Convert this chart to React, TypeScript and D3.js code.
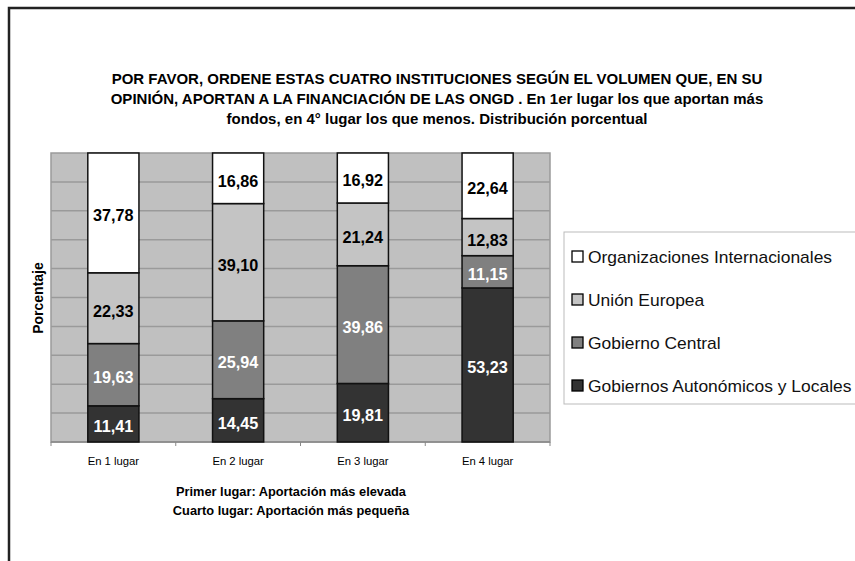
import React from "react";
import * as d3 from "d3";

const categories = ["En 1 lugar", "En 2 lugar", "En 3 lugar", "En 4 lugar"];
const seriesNames = [
  "Gobiernos Autonómicos y Locales",
  "Gobierno Central",
  "Unión Europea",
  "Organizaciones Internacionales",
];
const autonomicos = [11.41, 14.45, 19.81, 53.23];
const central = [19.63, 25.94, 39.86, 11.15];
const unionEuropea = [22.33, 39.1, 21.24, 12.83];
const organizaciones = [37.78, 16.86, 16.92, 22.64];
const seriesColors = ["#333333", "#808080", "#c4c4c4", "#ffffff"];
const labelColors = ["#ffffff", "#ffffff", "#000000", "#000000"];
const titleLines = [
  "POR FAVOR, ORDENE ESTAS CUATRO INSTITUCIONES SEGÚN EL VOLUMEN QUE, EN SU",
  "OPINIÓN, APORTAN A LA FINANCIACIÓN DE LAS ONGD . En 1er lugar los que aportan más",
  "fondos, en 4° lugar los que menos. Distribución porcentual",
];
const captionLines = [
  "Primer lugar: Aportación más elevada",
  "Cuarto lugar: Aportación más pequeña",
];
const yTicks = [0, 10, 20, 30, 40, 50, 60, 70, 80, 90, 100];

const W = 855;
const H = 561;
const plot = { left: 51, right: 550, top: 153, bottom: 442 };
const font = "'Liberation Sans', Arial, sans-serif";

export default function App() {
  const seriesValues = [autonomicos, central, unionEuropea, organizaciones];
  const rows = categories.map((c, i) => {
    const r: any = { cat: c };
    seriesNames.forEach((s, k) => (r[s] = seriesValues[k][i]));
    return r;
  });
  const stack = d3.stack<any>().keys(seriesNames).offset(d3.stackOffsetExpand);
  const stacked = stack(rows);

  const x = d3
    .scaleBand()
    .domain(categories)
    .range([plot.left, plot.right])
    .paddingInner(0.59)
    .paddingOuter(0.295);
  const xOuter = d3.scaleBand().domain(categories).range([plot.left, plot.right]);
  const y = d3.scaleLinear().domain([0, 100]).range([plot.bottom, plot.top]);
  const fmt = (v: number) => v.toFixed(2).replace(".", ",");

  const legendOrder = [3, 2, 1, 0];
  const legendCenter = (j: number) => 256.5 + j * 43;

  return (
    <svg
      width={W}
      height={H}
      style={{ position: "absolute", left: 0, top: 0, background: "#fff" }}
      fontFamily={font}
    >
      <rect x={0} y={0} width={W} height={H} fill="#fff" />
      <path d={`M9,${H} V8 H${W}`} fill="none" stroke="#222" strokeWidth={2.5} />

      {titleLines.map((t, i) => (
        <text
          key={i}
          x={437}
          y={84 + i * 20}
          textAnchor="middle"
          fontSize={15}
          fontWeight="bold"
          fill="#000"
        >
          {t}
        </text>
      ))}

      <rect
        x={plot.left}
        y={plot.top}
        width={plot.right - plot.left}
        height={plot.bottom - plot.top}
        fill="#c0c0c0"
        stroke="#9a9a9a"
        strokeWidth={1.5}
      />
      {yTicks.slice(1, -1).map((t) => (
        <line
          key={t}
          x1={plot.left}
          x2={plot.right}
          y1={y(t)}
          y2={y(t)}
          stroke="#9a9a9a"
          strokeWidth={1.5}
        />
      ))}
      <line x1={plot.left} x2={plot.right} y1={plot.bottom} y2={plot.bottom} stroke="#888" strokeWidth={1.5} />
      {[...categories.map((c) => xOuter(c)!), plot.right].map((v, i) => (
        <line key={i} x1={v} x2={v} y1={plot.bottom} y2={plot.bottom + 4} stroke="#888" strokeWidth={1} />
      ))}

      {stacked.map((layer, k) => (
        <g key={layer.key}>
          {layer.map((d, i) => {
            const y0 = y(d[0] * 100);
            const y1 = y(d[1] * 100);
            return (
              <rect
                key={i}
                x={x(categories[i])}
                y={y1}
                width={x.bandwidth()}
                height={y0 - y1}
                fill={seriesColors[k]}
                stroke="#111"
                strokeWidth={1.5}
              />
            );
          })}
        </g>
      ))}
      {stacked.map((layer, k) => (
        <g key={"l" + layer.key}>
          {layer.map((d, i) => {
            const y0 = y(d[0] * 100);
            const y1 = y(d[1] * 100);
            return (
              <text
                key={i}
                x={x(categories[i])! + x.bandwidth() / 2}
                y={(y0 + y1) / 2 + 8.5}
                textAnchor="middle"
                fontSize={16.2}
                fontWeight="bold"
                fill={labelColors[k]}
              >
                {fmt(seriesValues[k][i])}
              </text>
            );
          })}
        </g>
      ))}

      {categories.map((c) => (
        <text
          key={c}
          x={xOuter(c)! + xOuter.bandwidth() / 2}
          y={465}
          textAnchor="middle"
          fontSize={11.3}
          fill="#000"
        >
          {c}
        </text>
      ))}

      <text
        transform={`translate(43,298) rotate(-90)`}
        textAnchor="middle"
        fontSize={14}
        fontWeight="bold"
      >
        Porcentaje
      </text>

      {captionLines.map((t, i) => (
        <text key={i} x={291} y={496 + i * 18.5} textAnchor="middle" fontSize={12.8} fontWeight="bold">
          {t}
        </text>
      ))}

      <rect x={564} y={232} width={300} height={172} fill="#fff" stroke="#bbb" strokeWidth={1} />
      {legendOrder.map((k, j) => (
        <g key={k}>
          <rect
            x={572}
            y={legendCenter(j) - 5.5}
            width={11}
            height={11}
            fill={seriesColors[k]}
            stroke="#000"
            strokeWidth={1.3}
          />
          <text
            transform={`translate(588,${legendCenter(j) + 6}) scale(1.09,1)`}
            fontSize={16}
            fill="#111"
          >
            {seriesNames[k]}
          </text>
        </g>
      ))}
    </svg>
  );
}
